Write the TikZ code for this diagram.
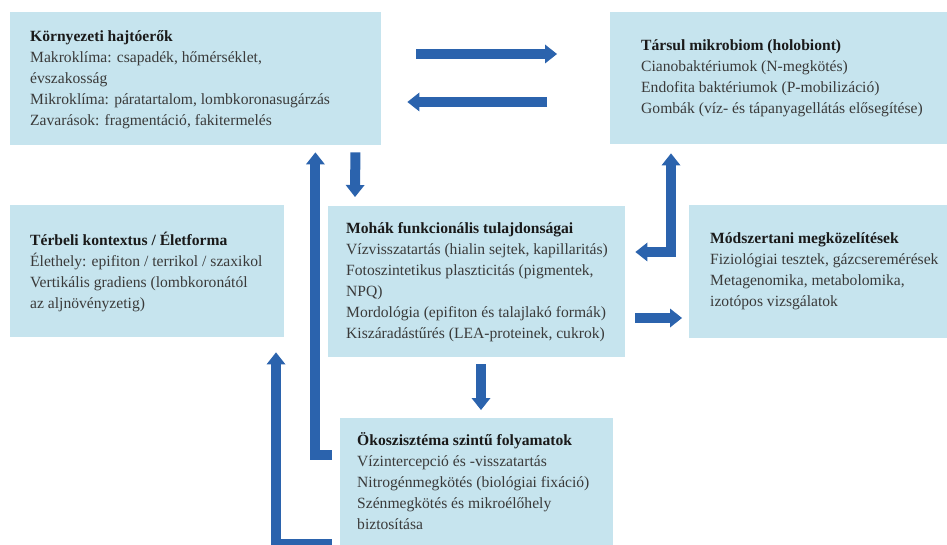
\documentclass[tikz,border=0pt]{standalone}
\usepackage{fontspec}
\setmainfont{Liberation Serif}
\usetikzlibrary{arrows.meta,calc}
\definecolor{boxfill}{RGB}{198,228,238}
\definecolor{arrowblue}{RGB}{43,99,173}
\definecolor{bodytext}{RGB}{58,58,58}
\definecolor{titletext}{RGB}{26,26,26}
\begin{document}
\begin{tikzpicture}[x=1pt,y=-1pt,
  panel/.style={rectangle,fill=boxfill,draw=none,inner sep=0pt,anchor=north west},
  txt/.style={align=left,inner sep=0pt,anchor=north west,text=bodytext,
    font=\fontsize{15.6}{21}\selectfont},
  blk/.style={draw=arrowblue,line width=10pt,line join=miter,
    -{Triangle[length=12pt,width=19pt,line width=0pt]}},
  blkboth/.style={draw=arrowblue,line width=10pt,line join=miter,
    {Triangle[length=12pt,width=19pt,line width=0pt]}-{Triangle[length=12pt,width=19pt,line width=0pt]}}
]
\useasboundingbox (0,0) rectangle (947,545);
% boxes
\node[panel,minimum width=371pt,minimum height=133pt] (A) at (10,12) {};
\node[panel,minimum width=337pt,minimum height=132pt] (B) at (610,12) {};
\node[panel,minimum width=274pt,minimum height=132pt] (C) at (10,205) {};
\node[panel,minimum width=297pt,minimum height=151pt] (D) at (328,206) {};
\node[panel,minimum width=258pt,minimum height=133pt] (E) at (689,205) {};
\node[panel,minimum width=273pt,minimum height=127pt] (F) at (340,418) {};
% texts (node top = first baseline - 14.7pt strut height)
\node[txt] (At) at ($(A.north west)+(20,14.3)$) {\strut{\color{titletext}\bfseries Környezeti hajtóerők}\\Makroklíma: csapadék, hőmérséklet,\\évszakosság\\Mikroklíma: páratartalom, lombkoronasugárzás\\Zavarások: fragmentáció, fakitermelés};
\node[txt] (Bt) at ($(B.north west)+(31,23.3)$) {\strut{\color{titletext}\bfseries Társul mikrobiom (holobiont)}\\Cianobaktériumok (N-megkötés)\\Endofita baktériumok (P-mobilizáció)\\Gombák (víz- és tápanyagellátás elősegítése)};
\node[txt] (Ct) at ($(C.north west)+(20,25.3)$) {\strut{\color{titletext}\bfseries Térbeli kontextus / Életforma}\\Élethely: epifiton / terrikol / szaxikol\\Vertikális gradiens (lombkoronától\\az aljnövényzetig)};
\node[txt] (Dt) at ($(D.north west)+(18,12.3)$) {\strut{\color{titletext}\bfseries Mohák funkcionális tulajdonságai}\\Vízvisszatartás (hialin sejtek, kapillaritás)\\Fotoszintetikus plaszticitás (pigmentek,\\NPQ)\\Mordológia (epifiton és talajlakó formák)\\Kiszáradástűrés (LEA-proteinek, cukrok)};
\node[txt] (Et) at ($(E.north west)+(21,23.3)$) {\strut{\color{titletext}\bfseries Módszertani megközelítések}\\Fiziológiai tesztek, gázcseremérések\\Metagenomika, metabolomika,\\izotópos vizsgálatok};
\node[txt] (Ft) at ($(F.north west)+(17,12.3)$) {\strut{\color{titletext}\bfseries Ökoszisztéma szintű folyamatok}\\Vízintercepció és -visszatartás\\Nitrogénmegkötés (biológiai fixáció)\\Szénmegkötés és mikroélőhely\\biztosítása};
% arrows
\draw[blk] ($(A.north east)+(35,42)$) -- ($(B.north west)+(-53,42)$);
\draw[blk] ($(B.north west)+(-63,90)$) -- ($(A.north east)+(26,90)$);
\draw[blk] ($(A.south east)+(-26,7)$) -- ($(D.north west)+(27,-9)$);
\draw[blk] ($(F.north west)+(-8,37)$) -| ($(A.south east)+(-66,7)$);
\draw[blk] ($(F.north west)+(-8,126)$) -| ($(C.south west)+(266,15)$);
\draw[blkboth] ($(B.south west)+(61,9)$) |- ($(D.north east)+(10,46)$);
\draw[blk] ($(D.north east)+(10,112)$) -- ($(E.north west)+(-7,113)$);
\draw[blk] ($(D.south west)+(153,7)$) -- ($(F.north west)+(141,-8)$);
\end{tikzpicture}
\end{document}
